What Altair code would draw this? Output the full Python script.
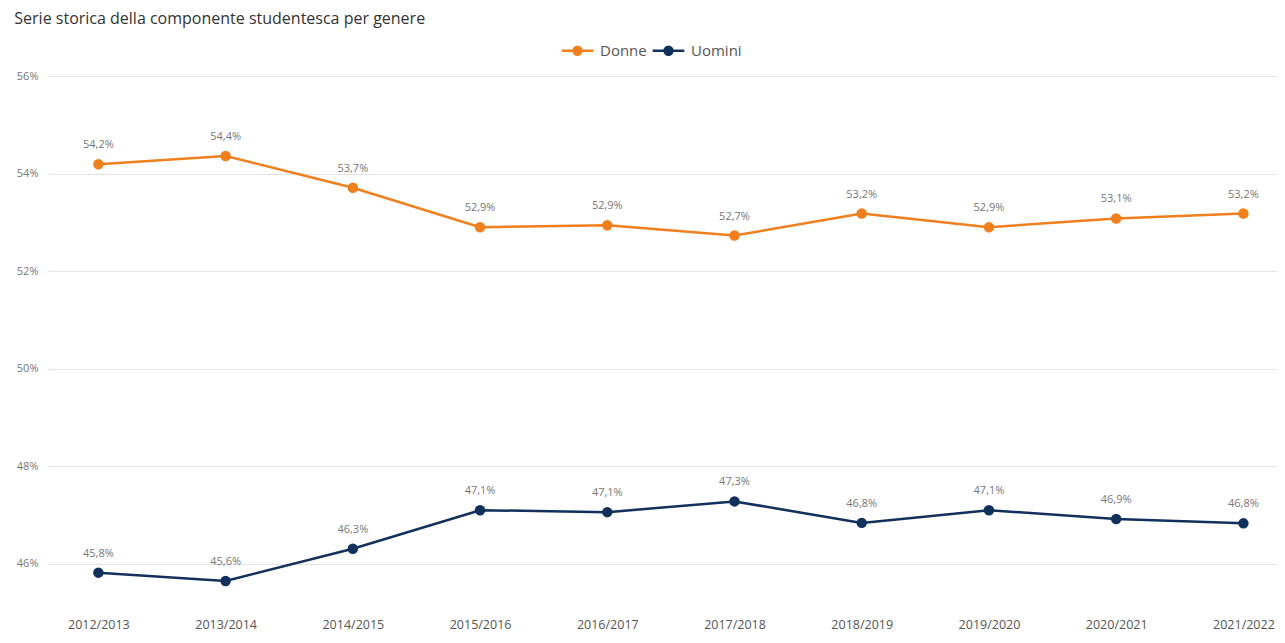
import altair as alt
import pandas as pd

anni = ["2012/2013", "2013/2014", "2014/2015", "2015/2016", "2016/2017",
        "2017/2018", "2018/2019", "2019/2020", "2020/2021", "2021/2022"]
donne = [54.19, 54.36, 53.71, 52.90, 52.94, 52.73, 53.18, 52.90, 53.08, 53.18]
uomini = [45.82, 45.65, 46.31, 47.10, 47.06, 47.28, 46.84, 47.10, 46.92, 46.83]
serie = ["Donne", "Uomini"]
colori = ["#F07F1E", "#11305C"]
y_ticks = [46, 48, 50, 52, 54, 56]

rows = []
for a, d, u in zip(anni, donne, uomini):
    rows.append({"anno": a, "genere": "Donne", "valore": d})
    rows.append({"anno": a, "genere": "Uomini", "valore": u})
df = pd.DataFrame(rows)

FONT = "Open Sans"
SYMBOL = "M-1,0H1M-0.25,0A0.25,0.25,0,1,1,0.25,0A0.25,0.25,0,1,1,-0.25,0Z"

x = alt.X("anno:N", sort=anni, title=None,
          scale=alt.Scale(type="point", padding=0.33, align=0.6),
          axis=alt.Axis(labelAngle=0, domain=False, ticks=False, grid=False,
                        labelPadding=20, labelFontSize=12.5, labelColor="#555555",
                        labelFont=FONT))
y = alt.Y("valore:Q", title=None,
          scale=alt.Scale(domain=[45.3, 56], nice=False, zero=False),
          axis=alt.Axis(values=y_ticks, domain=False, ticks=False,
                        labelExpr="datum.value + '%'", labelPadding=10,
                        labelFontSize=11, labelColor="#777777", labelFont=FONT,
                        gridColor="#e3e3e3", gridWidth=1))
color = alt.Color("genere:N", sort=serie,
                  scale=alt.Scale(domain=serie, range=colori),
                  legend=alt.Legend(title=None, orient="none", direction="horizontal",
                                    legendX=512, legendY=-43, labelFontSize=15,
                                    labelColor="#555555", labelFont=FONT,
                                    symbolType=SYMBOL, symbolStrokeWidth=2.5,
                                    symbolSize=1000, columnPadding=0, labelOffset=5))

base = alt.Chart(df)
points = base.mark_circle(size=110, opacity=1).encode(x=x, y=y, color=color)
lines = base.mark_line(strokeWidth=2.5).encode(x=x, y=y, color=color)
labels = base.mark_text(dy=-19, fontSize=11, color="#777777", font=FONT).transform_calculate(
    lab="replace(format(datum.valore, '.1f'), '.', ',') + '%'"
).encode(x=x, y=y, text="lab:N")

chart = alt.layer(lines, points, labels).properties(
    width=1229, height=522,
    title=alt.TitleParams("Serie storica della componente studentesca per genere",
                          anchor="start", fontSize=16, fontWeight=500,
                          color="#333333", font=FONT, dx=-2, offset=6),
    autosize=alt.AutoSizeParams(type="none"),
    padding={"left": 40, "top": 68, "right": 0, "bottom": 40},
).configure_view(stroke=None)

chart.save("out.html", embed_options={"renderer": "svg", "actions": False})
